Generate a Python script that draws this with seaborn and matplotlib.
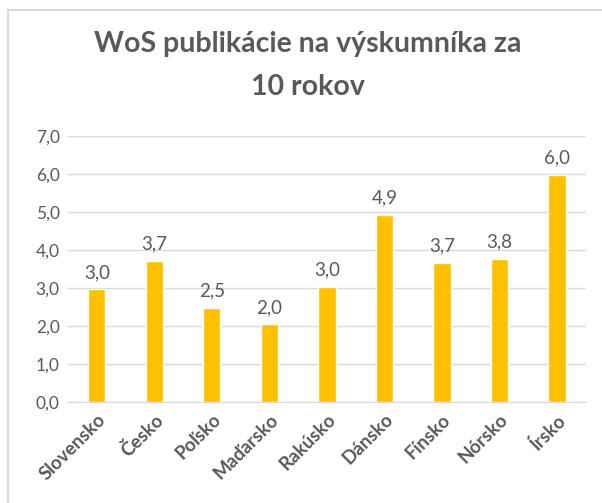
import matplotlib
matplotlib.use("Agg")
import matplotlib.pyplot as plt
import pandas as pd
import seaborn as sns
from matplotlib.patches import Rectangle

# ── Data ──────────────────────────────────────────────────────────────────────
countries = ["Slovensko", "Česko", "Poľsko", "Maďarsko", "Rakúsko",
             "Dánsko", "Fínsko", "Nórsko", "Írsko"]
values = [2.97, 3.72, 2.48, 2.05, 3.04, 4.92, 3.67, 3.77, 5.97]
y_ticks = [0, 1, 2, 3, 4, 5, 6, 7]

df = pd.DataFrame({"krajina": countries, "hodnota": values})

# ── Style ─────────────────────────────────────────────────────────────────────
sns.set_style("white")
plt.rcParams["font.family"] = ["Lato", "DejaVu Sans"]
GRAY = "#595959"
GOLD = "#FFC000"

fig = plt.figure(figsize=(6.02, 5.03), dpi=100)
ax = fig.add_axes([0.113, 0.2, 0.86, 0.53])

sns.barplot(data=df, x="krajina", y="hodnota", color=GOLD, width=0.3,
            saturation=1, ax=ax, zorder=3)

for i, v in enumerate(values):
    ax.text(i, v + 0.22, f"{v:.1f}".replace(".", ","), ha="center", va="bottom",
            fontsize=13.5, color=GRAY)

ax.set_ylim(0, 7)
ax.set_yticks(y_ticks)
ax.set_yticklabels([f"{t:.1f}".replace(".", ",") for t in y_ticks],
                   fontsize=12.5, color=GRAY)
ax.grid(axis="y", color="#D9D9D9", linewidth=1, zorder=0)
ax.set_xlabel("")
ax.set_ylabel("")
ax.set_xticks(range(len(countries)))
ax.set_xticklabels(countries, rotation=45, ha="right", rotation_mode="anchor",
                   fontsize=13.5, fontweight="bold", color=GRAY)
ax.tick_params(axis="both", length=0, pad=6)
for side in ["top", "right", "left"]:
    ax.spines[side].set_visible(False)
ax.spines["bottom"].set_color("#D9D9D9")
ax.set_xlim(-0.5, len(countries) - 0.5)

fig.text(0.512, 0.912, "WoS publikácie na výskumníka za", ha="center", va="center",
         fontsize=20.5, fontweight="bold", color=GRAY)
fig.text(0.512, 0.828, "10 rokov", ha="center", va="center",
         fontsize=20.5, fontweight="bold", color=GRAY)

# chart frame
fig.patches.append(Rectangle((0.014, -0.05), 1.1, 1.03, transform=fig.transFigure,
                             fill=False, edgecolor="#D9D9D9", linewidth=1.5))

fig.savefig("out.png", dpi=100)
